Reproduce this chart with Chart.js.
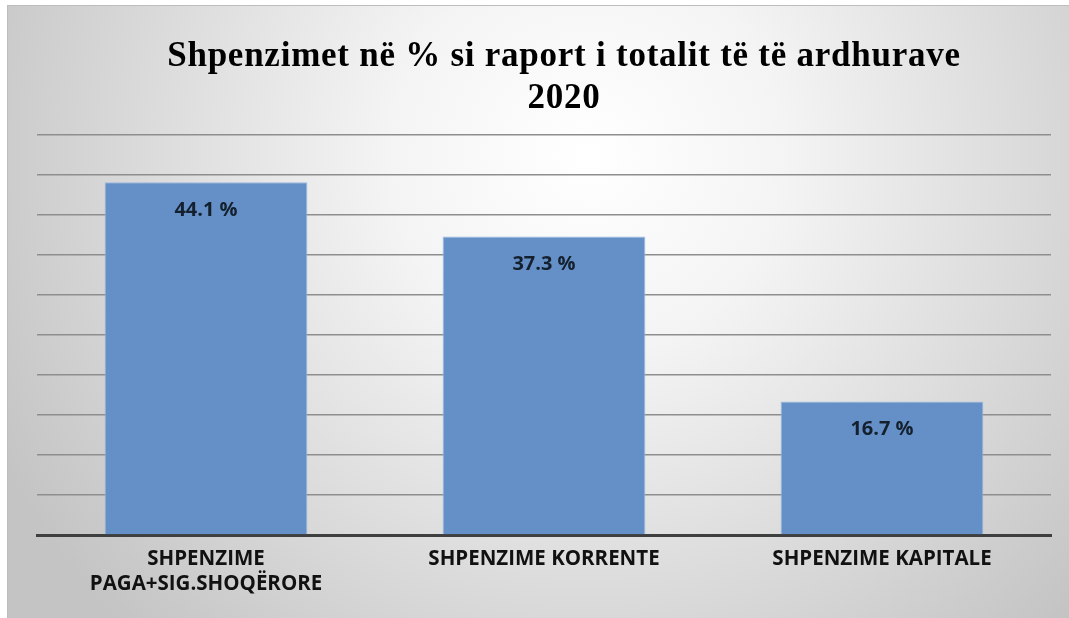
<!DOCTYPE html>
<html>
<head>
<meta charset="utf-8">
<script src="https://cdn.jsdelivr.net/npm/chart.js@4.4.1/dist/chart.umd.min.js"></script>
<style>
  html, body { margin: 0; padding: 0; background: #fff; }
  #wrap { position: absolute; left: 7px; top: 5px; width: 1062px; height: 613px; }
</style>
</head>
<body>
<div id="wrap"><canvas id="chart"></canvas></div>
<script>
// data
const categories = [['SHPENZIME', 'PAGA+SIG.SHOQËRORE'], 'SHPENZIME KORRENTE', 'SHPENZIME KAPITALE'];
const values = [44.1, 37.3, 16.7];
const titleLines = ['Shpenzimet në % si raport i totalit të të ardhurave', '2020'];

// grey radial background with a thin top border
const backdrop = {
    id: 'backdrop',
    beforeDraw(chart) {
        const { ctx, width, height } = chart;
        ctx.save();
        const g = ctx.createRadialGradient(580, 150, 0, 580, 150, 660);
        g.addColorStop(0, '#ffffff');
        g.addColorStop(0.3, '#f4f4f4');
        g.addColorStop(1, '#c4c4c4');
        ctx.fillStyle = g;
        ctx.fillRect(0, 0, width, height);
        ctx.fillStyle = '#bdbdbd';
        ctx.fillRect(0, 0, width, 1);
        ctx.fillRect(0, 0, 1, height);
        ctx.restore();
    }
};

// title drawn by hand so it can get letter spacing
const titleText = {
    id: 'titleText',
    afterDraw(chart) {
        const ctx = chart.ctx;
        ctx.save();
        ctx.font = 'bold 35px "Liberation Serif", "Times New Roman", serif';
        ctx.fillStyle = '#000';
        ctx.textAlign = 'center';
        ctx.textBaseline = 'alphabetic';
        ctx.letterSpacing = '0.75px';
        const cx = (chart.chartArea.left + chart.chartArea.right) / 2 + 20;
        ctx.fillText(titleLines[0], cx, 61);
        ctx.fillText(titleLines[1], cx, 103);
        ctx.restore();
    }
};

// value labels inside the top of each bar
const valueLabels = {
    id: 'valueLabels',
    afterDatasetsDraw(chart) {
        const ctx = chart.ctx;
        const meta = chart.getDatasetMeta(0);
        ctx.save();
        ctx.font = 'bold 20px "Open Sans", Lato, sans-serif';
        ctx.fillStyle = '#14202e';
        ctx.textAlign = 'center';
        ctx.textBaseline = 'middle';
        meta.data.forEach((bar, i) => {
            ctx.fillText(values[i].toFixed(1) + ' %', bar.x, bar.y + 28);
        });
        ctx.restore();
    }
};

new Chart(document.getElementById('chart'), {
    type: 'bar',
    data: {
        labels: categories,
        datasets: [{
            data: values,
            backgroundColor: '#6590c7',
            borderColor: '#9bbbe2',
            borderWidth: 1,
            barPercentage: 0.6,
            categoryPercentage: 1.0
        }]
    },
    options: {
        responsive: true,
        maintainAspectRatio: false,
        animation: false,
        layout: { padding: { left: 30, right: 18, top: 130, bottom: 0 } },
        plugins: {
            legend: { display: false },
            tooltip: { enabled: false },
            title: { display: false }
        },
        scales: {
            x: {
                grid: { display: false },
                border: { display: true, color: '#3f3f3f', width: 3 },
                ticks: {
                    color: '#111',
                    padding: 4,
                    maxRotation: 0,
                    font: { family: '"Open Sans", Lato, sans-serif', size: 20.5, weight: 'bold', lineHeight: 1.22 }
                },
                afterFit(scale) { scale.height = 83; }
            },
            y: {
                min: 0,
                max: 50,
                ticks: { display: false, stepSize: 5 },
                grid: { color: '#8e8e8e', lineWidth: 1.5, drawTicks: false },
                border: { display: false },
                afterFit(scale) { scale.width = 0; }
            }
        }
    },
    plugins: [backdrop, titleText, valueLabels]
});
</script>
</body>
</html>
